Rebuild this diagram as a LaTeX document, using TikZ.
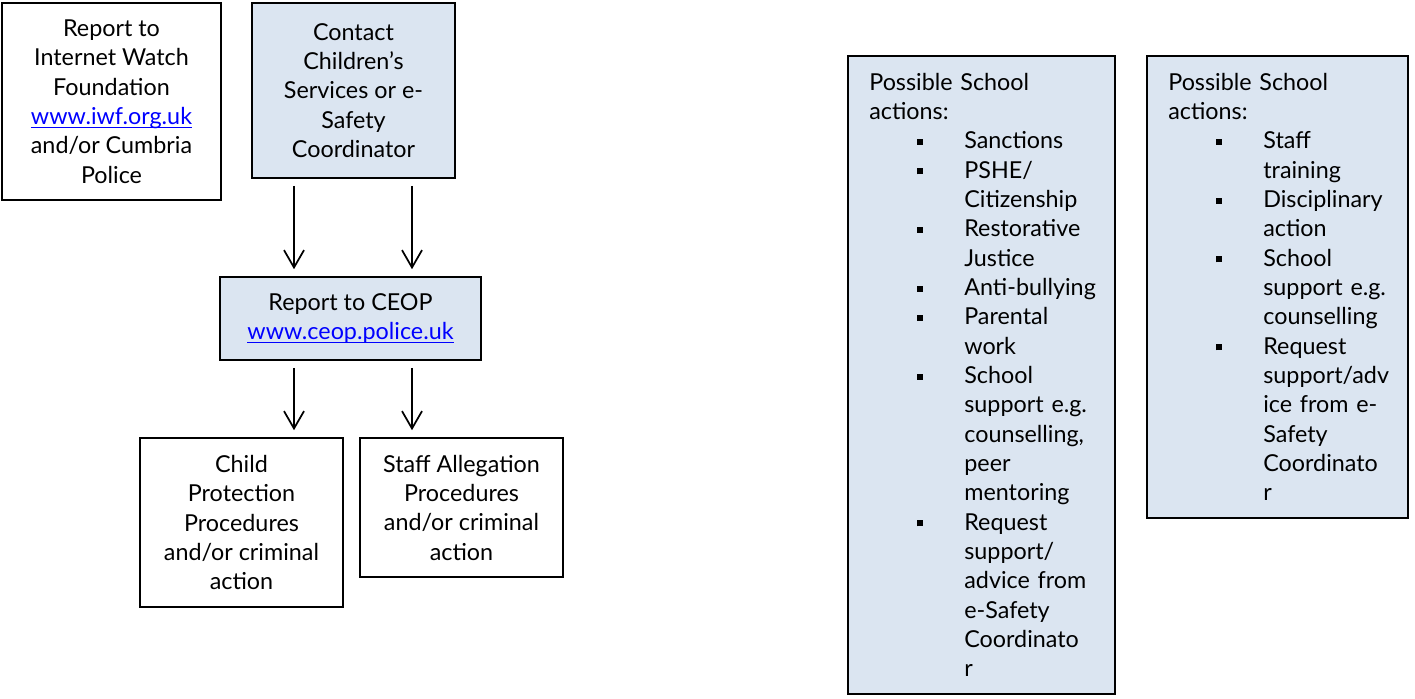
\documentclass[tikz,border=0pt]{standalone}
\usepackage{fontspec}
\setmainfont{Lato}
\usepackage{tikz}
\usetikzlibrary{arrows.meta}

\definecolor{boxblue}{HTML}{DBE5F1}
\definecolor{linkblue}{HTML}{0000FF}

\newsavebox{\linkbox}
\newcommand{\weblink}[1]{\sbox{\linkbox}{\color{linkblue}#1}%
  \rlap{\usebox{\linkbox}}\textcolor{linkblue}{\rule[-2.6pt]{\wd\linkbox}{1pt}}}
\newcommand{\sbul}[1]{\hspace*{36pt}\makebox[35.25pt][l]{\raisebox{3pt}{\rule{4.5pt}{4.5pt}}}\mbox{#1}}
\newcommand{\sind}[1]{\hspace*{71.25pt}\mbox{#1}}

\begin{document}
\begin{tikzpicture}[
  x=0.75pt, y=-0.75pt,
  every node/.style={draw, line width=1.2pt, inner sep=0pt,
                     font=\fontsize{17.5pt}{22pt}\selectfont},
  plainbox/.style={fill=white, align=center},
  bluebox/.style={fill=boxblue, align=center},
  listbox/.style={fill=boxblue, align=left, inner xsep=16pt},
  arr/.style={line width=1.3pt, -{Straight Barb[length=13pt, width=15pt, line width=1.3pt]},
              shorten <=5.25pt, shorten >=5.25pt}
]
\useasboundingbox (0,0) rectangle (1415,699);

\node[plainbox, minimum width=164.25pt, minimum height=147.75pt] (iwf) at (111.5,101.5)
  {Report to\\ Internet Watch\\ Foundation\\ \weblink{www.iwf.org.uk}\\ and/or Cumbria\\ Police};

\node[bluebox, minimum width=152.25pt, minimum height=131.25pt] (contact) at (353.5,90.5)
  {Contact\\ Children's\\ Services or e-\\ Safety\\ Coordinator};

\node[bluebox, minimum width=195.75pt, minimum height=62.25pt] (ceop) at (350.5,318.5)
  {Report to CEOP\\ \weblink{www.ceop.police.uk}};

\node[plainbox, minimum width=152.25pt, minimum height=126.75pt] (child) at (241.5,522.5)
  {Child\\ Protection\\ Procedures\\ and/or criminal\\ action};

\node[plainbox, minimum width=152.25pt, minimum height=104.25pt] (staff) at (461.5,507.5)
  {Staff Allegation\\ Procedures\\ and/or criminal\\ action};

\node[listbox, text width=168.25pt, minimum height=478.5pt] (pupilacts) at (981.5,375)
  {Possible School\\ actions:\\
   \sbul{Sanctions}\\
   \sbul{PSHE/}\\ \sind{Citizenship}\\
   \sbul{Restorative}\\ \sind{Justice}\\
   \sbul{Anti-bullying}\\
   \sbul{Parental}\\ \sind{work}\\
   \sbul{School}\\ \sind{support e.g.}\\ \sind{counselling,}\\ \sind{peer}\\ \sind{mentoring}\\
   \sbul{Request}\\ \sind{support/}\\ \sind{advice from}\\ \sind{e-Safety}\\ \sind{Coordinato}\\ \sind{r}};

\node[listbox, text width=163.75pt, minimum height=346.5pt] (staffacts) at (1277.5,287)
  {Possible School\\ actions:\\
   \sbul{Staff}\\ \sind{training}\\
   \sbul{Disciplinary}\\ \sind{action}\\
   \sbul{School}\\ \sind{support e.g.}\\ \sind{counselling}\\
   \sbul{Request}\\ \sind{support/adv}\\ \sind{ice from e-}\\ \sind{Safety}\\ \sind{Coordinato}\\ \sind{r}};

\coordinate (lx) at (294,0);
\coordinate (rx) at (412,0);

\draw[arr] (contact.south -| lx) -- (ceop.north -| lx);
\draw[arr] (contact.south -| rx) -- (ceop.north -| rx);
\draw[arr] (ceop.south -| lx) -- (child.north -| lx);
\draw[arr] (ceop.south -| rx) -- (staff.north -| rx);

\end{tikzpicture}
\end{document}
